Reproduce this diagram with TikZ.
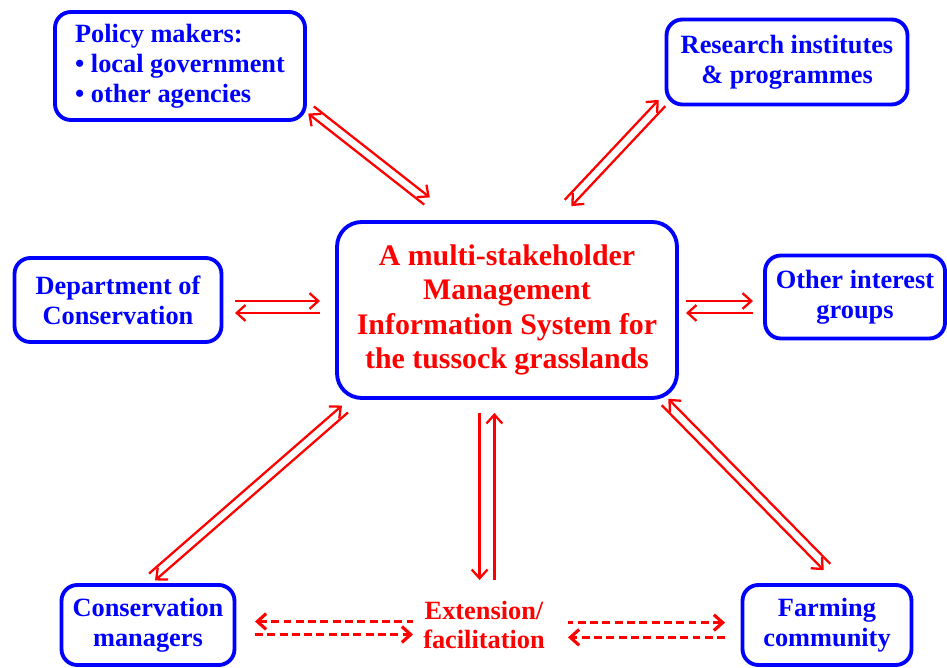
\documentclass[tikz,border=0pt]{standalone}
\usepackage{fontspec}
\setmainfont{Liberation Serif}
\usetikzlibrary{arrows.meta,calc}

\tikzset{
  box/.style={draw=blue, line width=2.2pt, rounded corners=9pt, text=blue,
    font=\bfseries\fontsize{15}{17}\selectfont, align=center, inner sep=0pt},
  link/.style={draw=red, line width=1.3pt},
  dlink/.style={draw=red, line width=1.8pt, dash pattern=on 4.5pt off 2.5pt},
  >={Straight Barb[length=5pt,width=9pt]}
}

\begin{document}
\begin{tikzpicture}[x=0.02cm,y=-0.02cm]
  \useasboundingbox (0,0) rectangle (947,668);

  % Centre box
  \node[box, rounded corners=14pt, text=red, font=\bfseries\fontsize{17}{19.5}\selectfont,
    minimum width=6.8cm, minimum height=3.52cm] (cen) at (507,310)
    {A multi-stakeholder\\Management\\Information System for\\the tussock grasslands};

  % Stakeholders
  \node[box, align=left, minimum width=5cm, minimum height=2.16cm] (pol) at (180,66)
    {Policy makers:\\\textbullet{} local government\\\textbullet{} other agencies};
  \node[box, minimum width=4.82cm, minimum height=1.7cm] (res) at (787,62)
    {Research institutes\\\& programmes};
  \node[box, minimum width=4.14cm, minimum height=1.68cm] (doc) at (118,300)
    {Department of\\Conservation};
  \node[box, minimum width=3.6cm, minimum height=1.66cm] (oth) at (855,297)
    {Other interest\\groups};
  \node[box, minimum width=3.46cm, minimum height=1.6cm] (cman) at (148,625)
    {Conservation\\managers};
  \node[box, minimum width=3.38cm, minimum height=1.6cm] (farm) at (827,625)
    {Farming\\community};
  \node[text=red, align=center, inner sep=0pt, font=\bfseries\fontsize{15}{17}\selectfont]
    (ext) at (484,625) {Extension/\\facilitation};

  % Link ends
  \coordinate (pol-a) at (311,110);  \coordinate (pol-b) at (427,201);
  \coordinate (res-a) at (662,103);  \coordinate (res-b) at (568,203);
  \coordinate (doc-a) at (235,307);  \coordinate (doc-b) at (320,307);
  \coordinate (oth-a) at (753,307);  \coordinate (oth-b) at (686,307);
  \coordinate (cman-a) at (152,577); \coordinate (cman-b) at (345,409);
  \coordinate (farm-a) at (827,567); \coordinate (farm-b) at (665,402);
  \coordinate (ext-a) at (487,580);  \coordinate (ext-b) at (487,413);
  \coordinate (dl-a) at (255,628);   \coordinate (dl-b) at (413,628);
  \coordinate (dr-a) at (725,630);   \coordinate (dr-b) at (568,630);

  % Solid links to the centre
  \draw[link,->] ($(pol-a)!2.6pt!90:(pol-b)$) -- ($(pol-b)!2.6pt!-90:(pol-a)$);
  \draw[link,<-] ($(pol-a)!2.6pt!-90:(pol-b)$) -- ($(pol-b)!2.6pt!90:(pol-a)$);
  \draw[link,->] ($(res-a)!2.6pt!90:(res-b)$) -- ($(res-b)!2.6pt!-90:(res-a)$);
  \draw[link,<-] ($(res-a)!2.6pt!-90:(res-b)$) -- ($(res-b)!2.6pt!90:(res-a)$);
  \draw[link,->] ($(doc-a)!3.4pt!90:(doc-b)$) -- ($(doc-b)!3.4pt!-90:(doc-a)$);
  \draw[link,<-] ($(doc-a)!3.4pt!-90:(doc-b)$) -- ($(doc-b)!3.4pt!90:(doc-a)$);
  \draw[link,->] ($(oth-a)!3.4pt!90:(oth-b)$) -- ($(oth-b)!3.4pt!-90:(oth-a)$);
  \draw[link,<-] ($(oth-a)!3.4pt!-90:(oth-b)$) -- ($(oth-b)!3.4pt!90:(oth-a)$);
  \draw[link,->] ($(cman-a)!2.6pt!90:(cman-b)$) -- ($(cman-b)!2.6pt!-90:(cman-a)$);
  \draw[link,<-] ($(cman-a)!2.6pt!-90:(cman-b)$) -- ($(cman-b)!2.6pt!90:(cman-a)$);
  \draw[link,<-] ($(farm-a)!2.6pt!90:(farm-b)$) -- ($(farm-b)!2.6pt!-90:(farm-a)$);
  \draw[link,->] ($(farm-a)!2.6pt!-90:(farm-b)$) -- ($(farm-b)!2.6pt!90:(farm-a)$);
  \draw[link,<-] ($(ext-a)!4.2pt!90:(ext-b)$) -- ($(ext-b)!4.2pt!-90:(ext-a)$);
  \draw[link,->] ($(ext-a)!4.2pt!-90:(ext-b)$) -- ($(ext-b)!4.2pt!90:(ext-a)$);

  % Dashed links to extension
  \draw[dlink,<-] ($(dl-a)!3.7pt!90:(dl-b)$) -- ($(dl-b)!3.7pt!-90:(dl-a)$);
  \draw[dlink,->] ($(dl-a)!3.7pt!-90:(dl-b)$) -- ($(dl-b)!3.7pt!90:(dl-a)$);
  \draw[dlink,->] ($(dr-a)!4.2pt!90:(dr-b)$) -- ($(dr-b)!4.2pt!-90:(dr-a)$);
  \draw[dlink,<-] ($(dr-a)!4.2pt!-90:(dr-b)$) -- ($(dr-b)!4.2pt!90:(dr-a)$);
\end{tikzpicture}
\end{document}
